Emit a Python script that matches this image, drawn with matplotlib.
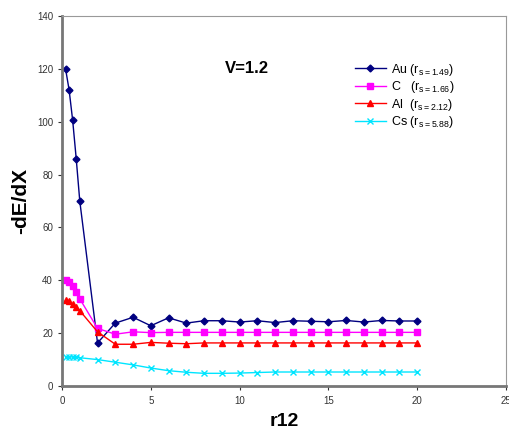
import matplotlib.pyplot as plt
import numpy as np

plt.rcParams['font.family'] = ['Liberation Sans', 'DejaVu Sans']

# r12 positions
x = [0.2, 0.4, 0.6, 0.8, 1.0, 2, 3, 4, 5, 6, 7, 8, 9, 10,
     11, 12, 13, 14, 15, 16, 17, 18, 19, 20]

au = [120, 112, 100.5, 86, 70, 16.3, 23.8, 26, 22.8, 25.8, 23.8, 24.7, 24.7, 24.2,
      24.7, 24.0, 24.7, 24.5, 24.3, 24.8, 24.2, 24.8, 24.6, 24.6]
c = [40, 39.5, 38, 35.4, 33, 21.8, 19.6, 20.5, 20.2, 20.3, 20.3, 20.3, 20.3, 20.3,
     20.3, 20.3, 20.3, 20.3, 20.3, 20.3, 20.3, 20.3, 20.3, 20.3]
al = [32.5, 32, 31, 30, 28.5, 20.5, 15.8, 15.8, 16.5, 16.2, 16.0, 16.3, 16.3, 16.3,
      16.3, 16.3, 16.3, 16.3, 16.3, 16.3, 16.3, 16.3, 16.3, 16.3]
cs = [11, 11, 11, 10.8, 10.7, 10, 9, 8, 6.8, 5.8, 5.2, 4.8, 4.8, 4.9,
      5.1, 5.3, 5.3, 5.3, 5.3, 5.3, 5.3, 5.3, 5.3, 5.3]

labels = [r'Au ($\mathregular{r_{s=1.49}}$)',
          r'C   ($\mathregular{r_{s=1.66}}$)',
          r'Al  ($\mathregular{r_{s=2.12}}$)',
          r'Cs ($\mathregular{r_{s=5.88}}$)']

fig = plt.figure(figsize=(5.1, 4.38), dpi=100)
ax = fig.add_axes([0.1216, 0.1187, 0.8704, 0.8448])

ax.plot(x, au, color='#000080', marker='D', ms=3.5, lw=1, label=labels[0])
ax.plot(x, c, color='#ff00ff', marker='s', ms=5, lw=1, label=labels[1])
ax.plot(x, al, color='#ff0000', marker='^', ms=5, lw=1, label=labels[2])
ax.plot(x, cs, color='#00e5ff', marker='x', ms=5, mew=1, lw=1, label=labels[3])

ax.set_xlim(0, 25)
ax.set_ylim(0, 140)
ax.set_xticks(range(0, 26, 5))
ax.set_yticks(range(0, 141, 20))
ax.tick_params(labelsize=7, colors='#333333', length=3, width=0.8, direction='out')
ax.tick_params(axis='x', pad=4)

for s in ['left', 'bottom']:
    ax.spines[s].set_color('#777777')
    ax.spines[s].set_linewidth(2)
for s in ['top', 'right']:
    ax.spines[s].set_color('#999999')
    ax.spines[s].set_linewidth(0.8)

ax.set_ylabel('-dE/dX', fontsize=15, fontweight='bold', labelpad=5)
ax.set_xlabel('r12', fontsize=14, fontweight='bold', labelpad=5)

ax.text(10.4, 120, 'V=1.2', fontsize=12, fontweight='bold', ha='center', va='center')

ax.legend(loc='upper left', bbox_to_anchor=(0.64, 0.9), frameon=False,
          fontsize=9, handlelength=2.5, handletextpad=0.4,
          labelspacing=0.12, borderpad=0.2)

fig.savefig('out.png', dpi=100)
